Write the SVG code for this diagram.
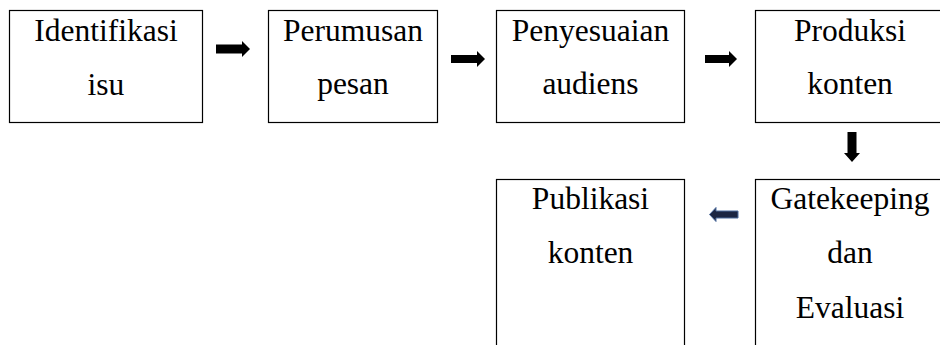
<svg xmlns="http://www.w3.org/2000/svg" xmlns:xlink="http://www.w3.org/1999/xlink" width="940" height="345" viewBox="0 0 940 345">
<style>
.box{fill:#fff;stroke:#000;stroke-width:1.2}
.t{font-family:"Liberation Serif","Times New Roman",serif;font-size:31.5px;fill:#000;text-anchor:middle}
.arr{fill:#000}
.arrb{fill:#1c2642;stroke:#4d6c9e;stroke-width:1}
</style>
<rect width="940" height="345" fill="#fff"/>
<g id="connectors">
<path class="arr" d="M216,44.5 H242 V41 L250,49 L242,57 V53.5 H216 Z"/>
<path class="arr" d="M451,55 H477 V51 L485,59 L477,67 V63 H451 Z"/>
<path class="arr" d="M705,55 H729 V51 L737,59 L729,67 V63 H705 Z"/>
<path class="arr" d="M847.5,132 V153 H844 L852,162 L860,153 H856.5 V132 Z"/>
<path class="arrb" d="M738,211 H716 V207.5 L709.5,214.5 L716,221.5 V218 H738 Z"/>
</g>
<g id="n1">
<rect class="box" x="9.5" y="10.5" width="193" height="112"/>
<text class="t" x="106" y="41">Identifikasi</text>
<text class="t" x="106" y="95">isu</text>
</g>
<g id="n2">
<rect class="box" x="268.5" y="10.5" width="169" height="112"/>
<text class="t" x="353" y="41">Perumusan</text>
<text class="t" x="353" y="94">pesan</text>
</g>
<g id="n3">
<rect class="box" x="496.5" y="10.5" width="188" height="112"/>
<text class="t" x="590.5" y="41">Penyesuaian</text>
<text class="t" x="590.5" y="94">audiens</text>
</g>
<g id="n4">
<rect class="box" x="755.5" y="10.5" width="190" height="112"/>
<text class="t" x="850" y="41">Produksi</text>
<text class="t" x="850" y="94">konten</text>
</g>
<g id="n5">
<rect class="box" x="496.5" y="179.5" width="188" height="180"/>
<text class="t" x="590.5" y="209">Publikasi</text>
<text class="t" x="590.5" y="263">konten</text>
</g>
<g id="n6">
<rect class="box" x="755.5" y="179.5" width="190" height="180"/>
<text class="t" x="850" y="209">Gatekeeping</text>
<text class="t" x="850" y="263">dan</text>
<text class="t" x="850" y="318">Evaluasi</text>
</g>
</svg>
